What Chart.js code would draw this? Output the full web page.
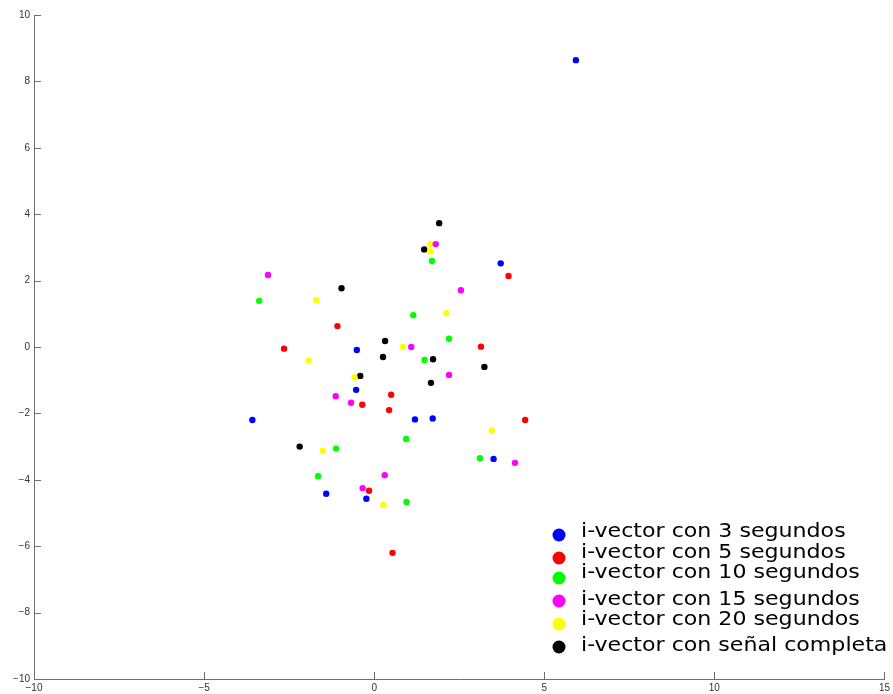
<!DOCTYPE html>
<html>
<head>
<meta charset="utf-8">
<script src="https://cdn.jsdelivr.net/npm/chart.js@4.4.1/dist/chart.umd.min.js"></script>
<style>
  html, body { margin: 0; padding: 0; background: #fff; }
  #wrap { width: 893px; height: 694px; }
</style>
</head>
<body>
<div id="wrap"><canvas id="c" width="893" height="694"></canvas></div>
<script>
// i-vector projections per utterance length, as [x, y] pairs
const seg3 = [[5.93, 8.64], [3.72, 2.52], [-0.51, -0.09], [-0.53, -1.29], [-3.58, -2.20],
              [1.20, -2.18], [1.72, -2.15], [3.51, -3.37], [-1.41, -4.42], [-0.23, -4.57]];
const seg5 = [[3.95, 2.14], [-1.08, 0.63], [-2.65, -0.05], [3.14, 0.01], [0.50, -1.44],
              [-0.35, -1.74], [0.44, -1.90], [4.44, -2.20], [-0.15, -4.33], [0.54, -6.20]];
const seg10 = [[-3.38, 1.39], [1.70, 2.59], [1.15, 0.96], [1.48, -0.39], [2.20, 0.25],
               [0.94, -2.77], [-1.12, -3.06], [-1.65, -3.89], [3.11, -3.35], [0.95, -4.67]];
const seg15 = [[-3.12, 2.17], [1.81, 3.10], [2.55, 1.71], [1.09, 0.00], [2.20, -0.84],
               [-1.13, -1.48], [-0.68, -1.68], [0.31, -3.86], [-0.34, -4.25], [4.14, -3.49]];
const seg20 = [[1.65, 3.10], [1.65, 2.88], [-1.70, 1.41], [2.12, 1.02], [0.84, 0.00],
               [-1.92, -0.41], [-0.58, -0.91], [3.46, -2.51], [-1.51, -3.12], [0.27, -4.76]];
const segFull = [[1.91, 3.73], [1.47, 2.94], [-0.96, 1.77], [0.32, 0.18], [0.26, -0.30],
                 [1.73, -0.37], [-0.41, -0.87], [3.24, -0.60], [1.67, -1.08], [-2.19, -3.00]];

const seriesLabels = ['i-vector con 3 segundos', 'i-vector con 5 segundos', 'i-vector con 10 segundos',
                      'i-vector con 15 segundos', 'i-vector con 20 segundos', 'i-vector con señal completa'];
const seriesColors = ['#0000ff', '#ff0000', '#00ff00', '#ff00ff', '#ffff00', '#000000'];
const seriesPoints = [seg3, seg5, seg10, seg15, seg20, segFull];

const xTicks = [-10, -5, 0, 5, 10, 15];
const yTicks = [-10, -8, -6, -4, -2, 0, 2, 4, 6, 8, 10];

const fmt = v => String(v).replace('-', '\u2212');
const axisColor = '#6e6e6e';

// inward tick marks along the left and bottom axes
const innerTicks = {
  id: 'innerTicks',
  afterDraw(chart) {
    const { ctx, chartArea, scales } = chart;
    const len = 7;
    ctx.save();
    ctx.strokeStyle = axisColor;
    ctx.lineWidth = 1;
    ctx.beginPath();
    yTicks.forEach(v => {
      const y = Math.round(scales.y.getPixelForValue(v)) + 0.5;
      ctx.moveTo(chartArea.left, y);
      ctx.lineTo(chartArea.left + len, y);
    });
    xTicks.forEach(v => {
      const x = Math.round(scales.x.getPixelForValue(v)) + 0.5;
      ctx.moveTo(x, chartArea.bottom);
      ctx.lineTo(x, chartArea.bottom - len);
    });
    ctx.stroke();
    ctx.restore();
  }
};

// legend box in the lower-right corner of the plot
const cornerLegend = {
  id: 'cornerLegend',
  afterDraw(chart) {
    const { ctx, chartArea } = chart;
    const textOffsets = [-147, -126, -106, -79, -59, -33];
    const markerOffsets = [-144, -121, -101, -78, -55, -32];
    const mx = chartArea.left + 525;
    const tx = chartArea.left + 547;
    const stretch = 1.105;
    ctx.save();
    ctx.font = '20px "DejaVu Sans"';
    ctx.textBaseline = 'middle';
    ctx.textAlign = 'left';
    chart.data.datasets.forEach((ds, i) => {
      ctx.beginPath();
      ctx.fillStyle = ds.backgroundColor;
      ctx.arc(mx, chartArea.bottom + markerOffsets[i], 6.5, 0, Math.PI * 2);
      ctx.fill();
      ctx.save();
      ctx.translate(tx, chartArea.bottom + textOffsets[i]);
      ctx.scale(stretch, 1);
      ctx.fillStyle = '#000';
      ctx.fillText(ds.label, 0, 0);
      ctx.restore();
    });
    ctx.restore();
  }
};

new Chart(document.getElementById('c'), {
  type: 'scatter',
  data: {
    datasets: seriesPoints.map((pts, i) => ({
      label: seriesLabels[i],
      data: pts.map(p => ({ x: p[0], y: p[1] })),
      backgroundColor: seriesColors[i],
      borderColor: seriesColors[i],
      borderWidth: 0,
      pointRadius: 3.2,
      pointHoverRadius: 3.2
    }))
  },
  options: {
    responsive: false,
    animation: false,
    layout: { padding: { top: 15, right: 8, left: 0, bottom: 0 } },
    plugins: { legend: { display: false }, tooltip: { enabled: false } },
    scales: {
      x: {
        type: 'linear', min: -10, max: 15,
        afterBuildTicks: s => { s.ticks = xTicks.map(v => ({ value: v })); },
        afterFit: s => { s.height = 15; },
        grid: { drawOnChartArea: false, drawTicks: false },
        border: { display: true, color: axisColor, width: 1 },
        ticks: { padding: 3, color: '#333', font: { family: 'Liberation Sans', size: 10 }, callback: v => fmt(v), maxRotation: 0 }
      },
      y: {
        type: 'linear', min: -10, max: 10,
        afterBuildTicks: s => { s.ticks = yTicks.map(v => ({ value: v })); },
        afterFit: s => { s.width = 34; },
        grid: { drawOnChartArea: false, drawTicks: false },
        border: { display: true, color: axisColor, width: 1 },
        ticks: { padding: 4, color: '#333', font: { family: 'Liberation Sans', size: 10 }, callback: v => fmt(v) }
      }
    }
  },
  plugins: [innerTicks, cornerLegend]
});
</script>
</body>
</html>
